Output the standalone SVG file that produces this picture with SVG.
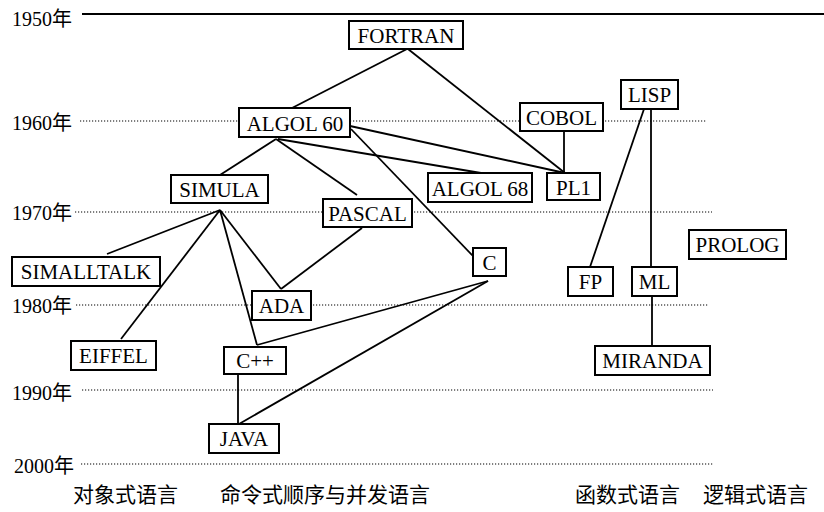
<svg xmlns="http://www.w3.org/2000/svg" width="824" height="512" viewBox="0 0 824 512">
<style>
.yr{font-family:"Liberation Serif","Noto Sans CJK SC",serif;font-size:20px;fill:#000}
.grid{stroke:#000;stroke-width:1.2;stroke-dasharray:1.2 1.8;fill:none}
.node rect{fill:#fff;stroke:#000;stroke-width:2}
.node text{font-family:"Liberation Serif",serif;font-size:21px;fill:#000;text-anchor:middle}
.edges line{stroke:#000;stroke-width:1.8}
.cat{font-family:"Noto Sans CJK SC",sans-serif;font-size:21px;fill:#000}
</style>
<rect width="824" height="512" fill="#fff"/>
<g id="timeline">
<line x1="82" y1="14" x2="824" y2="14" stroke="#000" stroke-width="2"/>
<line class="grid" x1="80" y1="121" x2="707" y2="121"/>
<line class="grid" x1="75" y1="212" x2="712" y2="212"/>
<line class="grid" x1="76" y1="305" x2="708" y2="305"/>
<line class="grid" x1="82" y1="390" x2="713" y2="390"/>
<line class="grid" x1="81" y1="464" x2="713" y2="464"/>
<text class="yr" x="12" y="26">1950年</text>
<text class="yr" x="12" y="130">1960年</text>
<text class="yr" x="12" y="220">1970年</text>
<text class="yr" x="12" y="313">1980年</text>
<text class="yr" x="12" y="400">1990年</text>
<text class="yr" x="14" y="473">2000年</text>
</g>
<g class="edges" id="connectors">
<line x1="407" y1="49" x2="292" y2="108"/>
<line x1="408" y1="49" x2="565" y2="173"/>
<line x1="564" y1="131" x2="564" y2="173"/>
<line x1="350" y1="126" x2="565" y2="173"/>
<line x1="351" y1="129" x2="473" y2="256"/>
<line x1="276" y1="139" x2="220" y2="175"/>
<line x1="276" y1="139" x2="357" y2="195"/>
<line x1="278" y1="139" x2="487" y2="174"/>
<line x1="220" y1="210" x2="107" y2="254"/>
<line x1="220" y1="210" x2="121" y2="339"/>
<line x1="220" y1="210" x2="281" y2="289"/>
<line x1="220" y1="210" x2="257" y2="345"/>
<line x1="362" y1="228" x2="281" y2="289"/>
<line x1="488" y1="281" x2="257" y2="345"/>
<line x1="488" y1="281" x2="239" y2="424"/>
<line x1="238" y1="374" x2="238" y2="424"/>
<line x1="644" y1="109" x2="590" y2="267"/>
<line x1="651" y1="109" x2="651" y2="267"/>
<line x1="652" y1="296" x2="652" y2="346"/>
</g>
<g class="node" id="fortran"><rect x="349" y="21" width="114" height="28"/><text x="406" y="43">FORTRAN</text></g>
<g class="node" id="algol60"><rect x="239" y="108" width="111" height="29"/><text x="295" y="131">ALGOL 60</text></g>
<g class="node" id="cobol"><rect x="520" y="103" width="83" height="28"/><text x="561.5" y="125">COBOL</text></g>
<g class="node" id="lisp"><rect x="621" y="80" width="57" height="29"/><text x="649.5" y="102">LISP</text></g>
<g class="node" id="simula"><rect x="171" y="175" width="97" height="28"/><text x="219.5" y="197">SIMULA</text></g>
<g class="node" id="algol68"><rect x="428" y="173" width="104" height="29"/><text x="480" y="196">ALGOL 68</text></g>
<g class="node" id="pl1"><rect x="547" y="173" width="53" height="27"/><text x="573.5" y="195">PL1</text></g>
<g class="node" id="pascal"><rect x="323" y="199" width="89" height="28"/><text x="367.5" y="221">PASCAL</text></g>
<g class="node" id="prolog"><rect x="689" y="230" width="97" height="29"/><text x="737.5" y="252">PROLOG</text></g>
<g class="node" id="c"><rect x="473" y="248" width="33" height="28"/><text x="489.5" y="270">C</text></g>
<g class="node" id="simalltalk"><rect x="12" y="257" width="148" height="29"/><text x="86" y="279">SIMALLTALK</text></g>
<g class="node" id="fp"><rect x="568" y="267" width="45" height="29"/><text x="590.5" y="289">FP</text></g>
<g class="node" id="ml"><rect x="632" y="267" width="45" height="29"/><text x="654.5" y="289">ML</text></g>
<g class="node" id="ada"><rect x="252" y="291" width="59" height="29"/><text x="281.5" y="313">ADA</text></g>
<g class="node" id="eiffel"><rect x="71" y="341" width="85" height="29"/><text x="113.5" y="363">EIFFEL</text></g>
<g class="node" id="cpp"><rect x="224" y="347" width="62" height="27"/><text x="255" y="368">C++</text></g>
<g class="node" id="miranda"><rect x="595" y="346" width="115" height="29"/><text x="652.5" y="368">MIRANDA</text></g>
<g class="node" id="java"><rect x="209" y="424" width="70" height="29"/><text x="244" y="446">JAVA</text></g>
<g id="categories">
<text class="cat" x="73" y="502">对象式语言</text>
<text class="cat" x="220" y="502">命令式顺序与并发语言</text>
<text class="cat" x="575" y="502">函数式语言</text>
<text class="cat" x="703" y="502">逻辑式语言</text>
</g>
</svg>
